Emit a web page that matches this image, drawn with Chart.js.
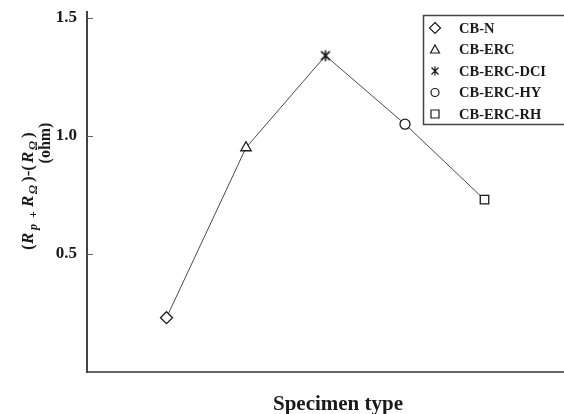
<!DOCTYPE html>
<html>
<head>
<meta charset="utf-8">
<script src="https://cdn.jsdelivr.net/npm/chart.js@4.4.1/dist/chart.umd.min.js"></script>
<style>
  html, body { margin: 0; padding: 0; background: #fff; }
  #wrap { width: 564px; height: 414px; }
</style>
</head>
<body>
<div id="wrap"><canvas id="chart"></canvas></div>
<script>
// --- data ---
const categories = ['CB-N', 'CB-ERC', 'CB-ERC-DCI', 'CB-ERC-HY', 'CB-ERC-RH'];
const positions = [1, 2, 3, 4, 5];
const resistance = [0.23, 0.95, 1.34, 1.05, 0.73];
const yTicks = [0.5, 1.0, 1.5];

const SERIF = "'Liberation Serif', 'Times New Roman', serif";
const INK = '#1a1a1a';

// asterisk marker (X plus vertical stroke)
function makeAsterisk(size) {
    const c = document.createElement('canvas');
    c.width = size; c.height = size;
    const g = c.getContext('2d');
    const m = size / 2, r = size / 2 - 1.5;
    g.strokeStyle = INK; g.lineWidth = 1.6;
    g.beginPath();
    g.moveTo(m - r * 0.8, m - r * 0.8); g.lineTo(m + r * 0.8, m + r * 0.8);
    g.moveTo(m + r * 0.8, m - r * 0.8); g.lineTo(m - r * 0.8, m + r * 0.8);
    g.moveTo(m, m - r); g.lineTo(m, m + r);
    g.stroke();
    return c;
}
const asterisk = makeAsterisk(14);
const markerStyles = ['rectRot', 'triangle', asterisk, 'circle', 'rect'];
const markerRadius = [6, 6, 6, 5, 6];

// small markers for the legend box
function drawMarker(ctx, style, x, y) {
    ctx.save();
    ctx.strokeStyle = INK; ctx.lineWidth = 1.2; ctx.fillStyle = '#fff';
    ctx.beginPath();
    if (style === 'rectRot') {
        ctx.moveTo(x, y - 5.5); ctx.lineTo(x + 5.5, y); ctx.lineTo(x, y + 5.5); ctx.lineTo(x - 5.5, y); ctx.closePath();
    } else if (style === 'triangle') {
        ctx.moveTo(x, y - 4.5); ctx.lineTo(x + 4.5, y + 3.5); ctx.lineTo(x - 4.5, y + 3.5); ctx.closePath();
    } else if (style === 'circle') {
        ctx.arc(x, y, 4, 0, Math.PI * 2);
    } else if (style === 'rect') {
        ctx.rect(x - 4, y - 4, 8, 8);
    } else {
        ctx.moveTo(x - 3.5, y - 3.5); ctx.lineTo(x + 3.5, y + 3.5);
        ctx.moveTo(x + 3.5, y - 3.5); ctx.lineTo(x - 3.5, y + 3.5);
        ctx.moveTo(x, y - 4.5); ctx.lineTo(x, y + 4.5);
    }
    ctx.fill(); ctx.stroke();
    ctx.restore();
}

const decorations = {
    id: 'decorations',
    afterDraw(chart) {
        const ctx = chart.ctx;
        const area = chart.chartArea;
        const y = chart.scales.y;
        ctx.save();

        // inner tick marks on the y axis
        ctx.strokeStyle = '#666'; ctx.lineWidth = 1;
        yTicks.forEach(v => {
            const py = Math.round(y.getPixelForValue(v)) + 0.5;
            ctx.beginPath(); ctx.moveTo(area.left, py); ctx.lineTo(area.left + 6, py); ctx.stroke();
        });

        // y axis title, rotated, italic R with subscripts; each part placed from the bottom end
        ctx.fillStyle = INK;
        ctx.textBaseline = 'middle';
        ctx.textAlign = 'left';
        const big = 'bold 17px ' + SERIF, bigI = 'italic bold 17px ' + SERIF, sub = 'italic bold 12px ' + SERIF;
        const parts = [
            ['(', big, 0, 0], ['R', bigI, 0, 6], ['p', sub, 5, 20], ['+', sub, 5, 32],
            ['R', bigI, 0, 43], ['Ω', sub, 5, 56], [')-(', big, 0, 68],
            ['R', bigI, 0, 87], ['Ω', sub, 5, 100], [')', big, 0, 112]
        ];
        ctx.save();
        ctx.translate(29, 250);
        ctx.rotate(-Math.PI / 2);
        parts.forEach(p => {
            ctx.font = p[1];
            ctx.fillText(p[0], p[3], p[2]);
        });
        ctx.restore();
        ctx.save();
        ctx.translate(46, 143);
        ctx.rotate(-Math.PI / 2);
        ctx.font = 'bold 16px ' + SERIF; ctx.textAlign = 'center';
        ctx.fillText('(ohm)', 0, 0);
        ctx.restore();

        // x axis title
        ctx.font = 'bold 21px ' + SERIF;
        ctx.textAlign = 'center';
        ctx.fillText('Specimen type', 338, 405);

        // legend box
        ctx.strokeStyle = '#444'; ctx.lineWidth = 1.5;
        ctx.strokeRect(423.5, 15.5, 160, 109);
        ctx.font = 'bold 14.5px ' + SERIF;
        ctx.textAlign = 'left';
        categories.forEach((name, i) => {
            const ly = 28 + i * 21.5;
            drawMarker(ctx, markerStyles[i] === asterisk ? 'asterisk' : markerStyles[i], 435, ly);
            ctx.fillStyle = INK;
            ctx.fillText(name, 459, ly + 1);
        });
        ctx.restore();
    }
};

new Chart(document.getElementById('chart'), {
    type: 'line',
    data: {
        datasets: [{
            label: 'resistance',
            data: positions.map((x, i) => ({ x: x, y: resistance[i] })),
            borderColor: '#4a4a4a',
            borderWidth: 1,
            pointStyle: markerStyles,
            pointRadius: markerRadius,
            pointBorderColor: INK,
            pointBorderWidth: 1.3,
            pointBackgroundColor: '#fff',
            tension: 0,
            clip: false
        }]
    },
    options: {
        responsive: true,
        maintainAspectRatio: false,
        animation: false,
        layout: { autoPadding: false, padding: { top: 12, right: 0, left: 0, bottom: 0 } },
        plugins: { legend: { display: false }, tooltip: { enabled: false } },
        scales: {
            x: {
                type: 'linear', min: 0, max: 6,
                grid: { display: false, drawTicks: false },
                border: { display: true, color: '#666', width: 2 },
                ticks: { display: false },
                afterFit: s => { s.height = 42; s.paddingLeft = 0; s.paddingRight = 0; }
            },
            y: {
                type: 'linear', min: 0, max: 1.525,
                grid: { display: false, drawTicks: false },
                border: { display: true, color: '#444', width: 2 },
                afterBuildTicks: s => { s.ticks = yTicks.map(v => ({ value: v })); },
                ticks: {
                    padding: 10,
                    color: INK,
                    font: { family: SERIF, size: 17, weight: 'bold' },
                    callback: v => v.toFixed(1)
                },
                afterFit: s => { s.width = 87; s.paddingTop = 0; s.paddingBottom = 0; }
            }
        }
    },
    plugins: [decorations]
});
</script>
</body>
</html>
